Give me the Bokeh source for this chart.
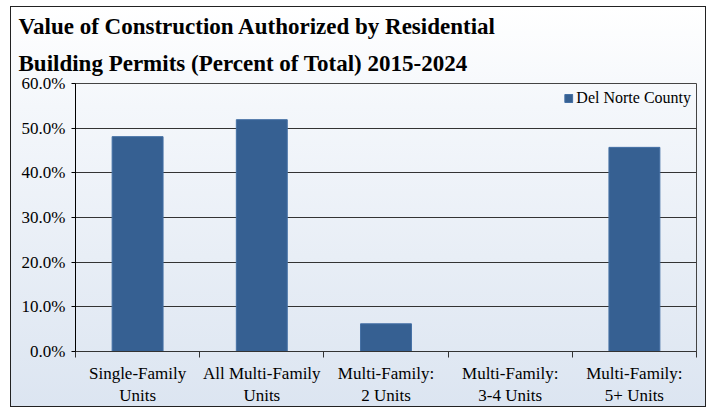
from bokeh.plotting import figure
from bokeh.models import FixedTicker, NumeralTickFormatter, Range1d, ColumnDataSource, Title
from bokeh.embed import file_html
from bokeh.resources import INLINE

categories = ["Single-Family\nUnits", "All Multi-Family\nUnits", "Multi-Family:\n2 Units",
              "Multi-Family:\n3-4 Units", "Multi-Family:\n5+ Units"]
values = [0.481, 0.519, 0.062, 0.0, 0.457]
series_name = "Del Norte County"
title_lines = ["Value of Construction Authorized by Residential",
               "Building Permits (Percent of Total) 2015-2024"]
y_ticks = [0.0, 0.1, 0.2, 0.3, 0.4, 0.5, 0.6]

FONT = "Liberation Serif"
TICK_FONT = "Times"
BAR = "#366092"

xs = [i + 0.5 for i in range(len(categories))]
src = ColumnDataSource(dict(x=xs, top=values))

p = figure(width=696, height=401, output_backend="svg", toolbar_location=None,
           x_range=Range1d(0, len(categories)), y_range=Range1d(0, 0.6),
           min_border_left=64, min_border_right=11, min_border_top=76, min_border_bottom=56)
p.styles = {"background": "linear-gradient(#ffffff 0%, #f4f7fb 25%, #dce5f1 100%)",
            "border": "1px solid #222", "margin": "6px 0 0 10px"}
p.border_fill_alpha = 0
p.background_fill_alpha = 0
p.outline_line_color = "#444444"
p.outline_line_width = 1

p.vbar(x="x", top="top", width=0.41, source=src, fill_color=BAR, line_color="#4470a5",
       line_width=1, legend_label=series_name)

# x axis: labels centred in categories, tick marks at category boundaries
p.xaxis.ticker = FixedTicker(ticks=xs, minor_ticks=list(range(len(categories) + 1)))
p.xaxis.major_label_overrides = {x: c for x, c in zip(xs, categories)}
p.xaxis.major_tick_line_color = None
p.xaxis.minor_tick_line_color = "#333333"
p.xaxis.minor_tick_in = 0
p.xaxis.minor_tick_out = 6
p.xaxis.axis_line_color = "#333333"
p.xaxis.major_label_text_font = TICK_FONT
p.xaxis.major_label_text_font_size = "17px"
p.xaxis.major_label_text_color = "black"
p.xaxis.major_label_standoff = 6

p.yaxis.ticker = FixedTicker(ticks=y_ticks)
p.yaxis.formatter = NumeralTickFormatter(format="0.0%")
p.yaxis.major_tick_in = 0
p.yaxis.major_tick_out = 4
p.yaxis.minor_tick_line_color = None
p.yaxis.axis_line_color = "black"
p.yaxis.major_tick_line_color = "black"
p.yaxis.major_label_text_font = TICK_FONT
p.yaxis.major_label_text_font_size = "17px"
p.yaxis.major_label_text_color = "black"
p.yaxis.major_label_standoff = 6

p.xgrid.grid_line_color = None
p.ygrid.grid_line_color = "#333333"
p.ygrid.grid_line_width = 1

# title lines in the "above" panel (second line closest to the frame)
p.add_layout(Title(text=title_lines[1], align="left", offset=-57, standoff=16,
                   text_font=FONT, text_font_size="23px", text_font_style="bold",
                   text_color="black"), "above")
p.add_layout(Title(text=title_lines[0], align="left", offset=-57, standoff=4,
                   text_font=FONT, text_font_size="23px", text_font_style="bold",
                   text_color="black"), "above")

lg = p.legend[0]
lg.location = "top_right"
lg.background_fill_alpha = 0
lg.border_line_color = None
lg.padding = 0
lg.margin = 5
lg.glyph_width = 10
lg.glyph_height = 10
lg.label_standoff = 3
lg.label_text_font = TICK_FONT
lg.label_text_font_size = "16px"
lg.label_text_color = "black"
lg.label_height = 20

open("out.html", "w").write(file_html(p, INLINE))
